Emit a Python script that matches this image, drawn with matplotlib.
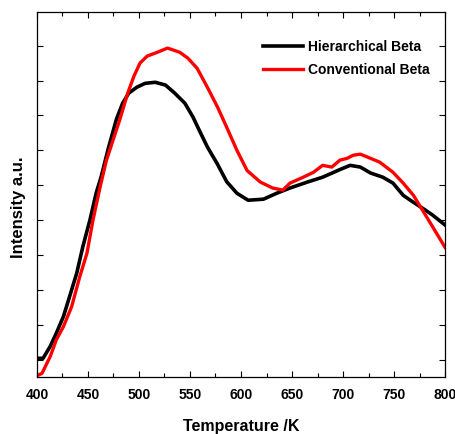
import matplotlib
matplotlib.use("Agg")
import matplotlib.pyplot as plt
from matplotlib.ticker import MultipleLocator

T_hier = [400, 406, 413, 419, 426, 432, 439, 445, 452, 458, 463, 470, 478, 484, 490, 498, 506, 516,
          526, 535, 545, 553, 560, 567, 577, 586, 596, 607, 622, 635, 648, 665, 680, 697, 707, 717,
          727, 739, 749, 759, 769, 778, 788, 800]
I_hier = [0.54, 0.54, 0.88, 1.26, 1.74, 2.31, 2.98, 3.74, 4.51, 5.27, 5.75, 6.56, 7.40, 7.85, 8.14,
          8.31, 8.42, 8.45, 8.37, 8.14, 7.85, 7.45, 7.02, 6.60, 6.10, 5.60, 5.27, 5.07, 5.10, 5.27,
          5.42, 5.59, 5.73, 5.95, 6.07, 6.02, 5.85, 5.73, 5.56, 5.21, 5.01, 4.84, 4.64, 4.36]

T_conv = [400, 405, 413, 419, 426, 434, 442, 449, 455, 462, 468, 472, 481, 489, 495, 501, 508, 518,
          528, 540, 548, 557, 567, 577, 586, 596, 606, 619, 631, 641, 648, 661, 671, 680, 689,
          697, 704, 710, 717, 727, 736, 749, 759, 769, 778, 788, 800]
I_conv = [0.04, 0.11, 0.59, 1.07, 1.45, 2.02, 2.88, 3.55, 4.51, 5.46, 6.20, 6.56, 7.36, 8.14, 8.62,
          9.00, 9.20, 9.31, 9.43, 9.31, 9.14, 8.85, 8.31, 7.74, 7.16, 6.50, 5.92, 5.59, 5.42,
          5.36, 5.56, 5.73, 5.87, 6.07, 6.02, 6.22, 6.27, 6.36, 6.39, 6.27, 6.16, 5.87, 5.56, 5.21,
          4.78, 4.30, 3.72]

x_ticks = [400, 450, 500, 550, 600, 650, 700, 750, 800]

fam = 'Liberation Sans'
fig = plt.figure(figsize=(4.56, 4.34), dpi=100)
ax = fig.add_axes([0.081, 0.131, 0.895, 0.841])
ax.plot(T_hier, I_hier, color='black', lw=2.6, label='Hierarchical Beta')
ax.plot(T_conv, I_conv, color='#ff0000', lw=2.4, label='Conventional Beta')
ax.set_xlim(400, 800)
ax.set_ylim(0, 10.46)
ax.set_xticks(x_ticks)
ax.xaxis.set_minor_locator(MultipleLocator(25))
ax.set_yticks([0.5 + k for k in range(10)])
ax.set_yticklabels([])
ax.tick_params(which='both', direction='in', top=True, right=True, width=0.8)
ax.tick_params(which='major', length=4)
ax.tick_params(which='minor', length=3)
ax.tick_params(axis='x', pad=8)
for lab in ax.get_xticklabels():
    lab.set_fontfamily(fam)
    lab.set_fontweight('bold')
    lab.set_fontsize(10)
for s in ax.spines.values():
    s.set_linewidth(0.9)
ax.set_xlabel('Temperature /K', fontfamily=fam, fontweight='bold', fontsize=11.5, labelpad=12)
ax.set_ylabel('Intensity a.u.', fontfamily=fam, fontweight='bold', fontsize=12)
ax.yaxis.set_label_coords(-0.028, 0.466)
leg = ax.legend(loc='upper right', frameon=False, handlelength=2.9, handletextpad=0.35,
                bbox_to_anchor=(1.0, 0.965), borderaxespad=0.5, borderpad=0.6, labelspacing=0.62,
                prop={'family': fam, 'weight': 'bold', 'size': 10})
fig.savefig('out.png', dpi=100)
